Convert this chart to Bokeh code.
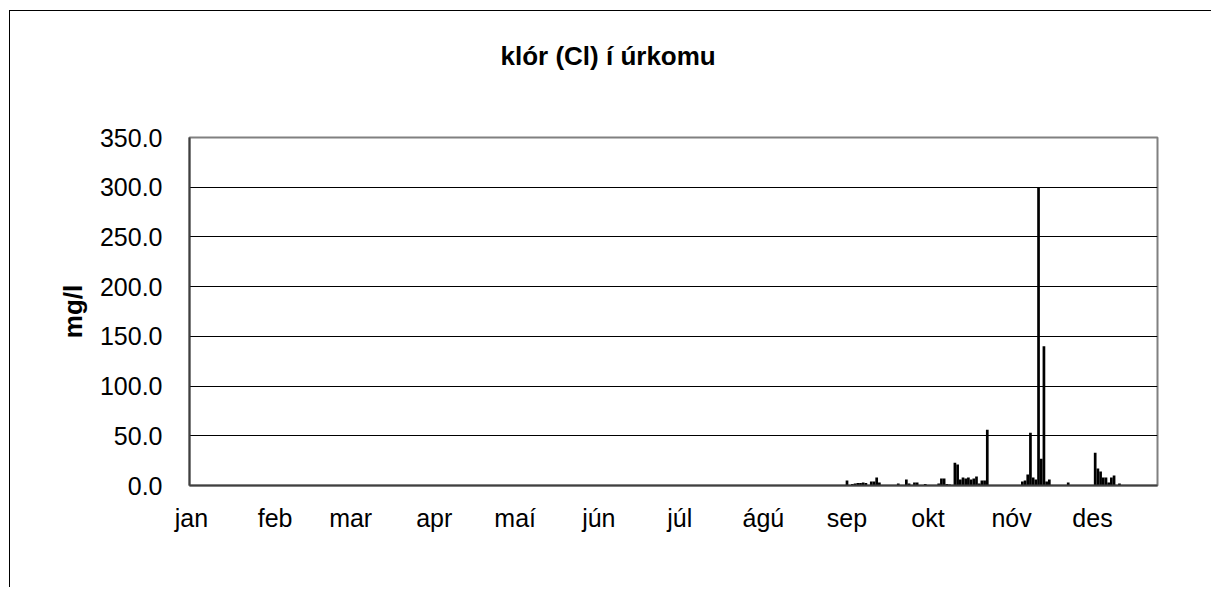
from bokeh.plotting import figure
from bokeh.models import FixedTicker, Range1d, NumeralTickFormatter, Title
from bokeh.embed import file_html
from bokeh.resources import INLINE

# ---- data (day of year, 0 = 1 Jan) ----
days = [243, 245, 246, 247, 248, 249, 250, 252, 253, 254, 255, 262, 265, 266, 268,
        269, 272, 277, 278, 279, 280, 281, 283, 284, 285, 286, 287, 288, 289, 290,
        291, 292, 293, 294, 295, 308, 309, 310, 311, 312, 313, 314, 315, 316, 317,
        318, 325, 335, 336, 337, 338, 339, 340, 341, 342, 344]
chloride = [5, 1.5, 2, 2.5, 2.5, 3, 2.5, 4, 4, 8, 3, 2, 6, 2, 3,
            3, 1.5, 2, 7, 7, 1.5, 1, 23, 21, 6, 8, 7, 8, 6, 7,
            9, 2, 5, 5, 56, 4, 5, 11, 53, 8, 6, 300, 27, 140, 4,
            6, 3, 33, 17, 14, 8, 8, 3, 8, 10, 2]
month_starts = [0, 31, 59, 90, 120, 151, 181, 212, 243, 273, 304, 334]
month_labels = ["jan", "feb", "mar", "apr", "maí", "jún", "júl", "ágú", "sep", "okt", "nóv", "des"]
y_ticks = [0, 50, 100, 150, 200, 250, 300, 350]
title_text = "klór (Cl) í úrkomu"
y_label = "mg/l"

FONT = "Liberation Sans"

p = figure(width=1202, height=577, output_backend="svg", toolbar_location=None,
           x_range=Range1d(-0.74, 358.1), y_range=Range1d(0, 350),
           min_border_left=179, min_border_right=55, min_border_top=126,
           min_border_bottom=103)
p.styles = {"margin-left": "9px", "margin-top": "10px",
            "border-left": "1px solid black", "border-top": "1px solid black"}

p.vbar(x=days, top=chloride, width=1.0, bottom=0, fill_color="black", line_color=None)

p.background_fill_color = "white"
p.border_fill_color = "white"
p.outline_line_color = "#808080"
p.outline_line_width = 2

p.xgrid.visible = False
p.ygrid.grid_line_color = "black"
p.ygrid.grid_line_width = 1
p.ygrid.ticker = FixedTicker(ticks=y_ticks)

p.yaxis.ticker = FixedTicker(ticks=y_ticks)
p.yaxis.formatter = NumeralTickFormatter(format="0.0")
p.yaxis.major_tick_line_color = None
p.yaxis.minor_tick_line_color = None
p.yaxis.major_label_standoff = 21
p.yaxis.major_label_text_font = FONT
p.yaxis.major_label_text_font_size = "25px"
p.yaxis.major_label_text_color = "black"
p.yaxis.axis_line_color = "#404040"
p.yaxis.axis_line_width = 2
p.yaxis.axis_label = y_label
p.yaxis.axis_label_text_font = FONT
p.yaxis.axis_label_text_font_size = "26px"
p.yaxis.axis_label_text_font_style = "bold"
p.yaxis.axis_label_text_color = "black"
p.yaxis.axis_label_standoff = 9

p.xaxis.ticker = FixedTicker(ticks=month_starts)
p.xaxis.major_label_overrides = {d: m for d, m in zip(month_starts, month_labels)}
p.xaxis.major_tick_line_color = None
p.xaxis.minor_tick_line_color = None
p.xaxis.major_label_standoff = 12
p.xaxis.major_label_text_font = FONT
p.xaxis.major_label_text_font_size = "25px"
p.xaxis.major_label_text_color = "black"
p.xaxis.axis_line_color = "#404040"
p.xaxis.axis_line_width = 2

# blank spacer panel between the plot area and the title
p.add_layout(Title(text=" ", standoff=58, text_font_size="2px", text_color="white"), "above")

p.add_layout(Title(text=title_text, align="left", offset=311, standoff=10,
                   text_font=FONT, text_font_size="26px", text_font_style="bold",
                   text_color="black"), "above")

open("out.html", "w").write(file_html(p, INLINE))
